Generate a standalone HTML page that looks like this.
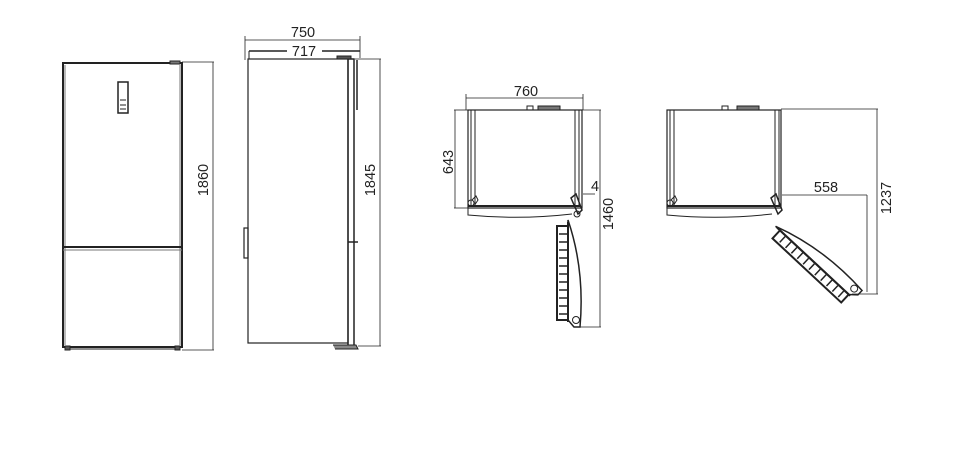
<!DOCTYPE html>
<html><head><style>
body{margin:0;background:#fff;width:961px;height:460px;overflow:hidden}
svg{display:block}
text{font-family:"Liberation Sans",sans-serif;font-size:14.5px;fill:#222}
</style></head><body>
<svg width="961" height="460" viewBox="0 0 961 460" xmlns="http://www.w3.org/2000/svg">
<g fill="none" stroke="#222" stroke-width="1">
<!-- Front view -->
<rect x="63" y="63" width="119" height="284" stroke-width="2"/>
<line x1="65" y1="65" x2="65" y2="345" stroke="#777"/>
<line x1="180" y1="65" x2="180" y2="345" stroke="#777"/>
<line x1="63" y1="247" x2="182" y2="247" stroke-width="2"/>
<line x1="63" y1="250" x2="182" y2="250" stroke="#777"/>
<rect x="118" y="82" width="10" height="31" stroke-width="1.5"/>
<line x1="120" y1="100" x2="126" y2="100"/><line x1="120" y1="105" x2="126" y2="105"/><line x1="120" y1="109" x2="126" y2="109"/>
<rect x="65" y="346" width="5" height="4" fill="#555"/><rect x="175" y="346" width="5" height="4" fill="#555"/>
<line x1="70" y1="349" x2="175" y2="349"/>
<rect x="170" y="61" width="10" height="3" fill="#777"/>
<line x1="182" y1="62" x2="214" y2="62" stroke-width="0.8"/>
<line x1="182" y1="350" x2="214" y2="350" stroke-width="0.8"/>
<line x1="213" y1="62" x2="213" y2="350" stroke-width="0.8"/>
<!-- Side view -->
<rect x="248" y="59" width="100" height="284" stroke-width="1.2"/>
<rect x="348" y="59" width="6" height="287" stroke-width="1.5"/>
<line x1="357" y1="60" x2="357" y2="110" stroke-width="1.5"/>
<line x1="348" y1="242" x2="358" y2="242" stroke-width="1.5"/>
<rect x="244" y="228" width="4" height="30" stroke-width="1.2"/>
<rect x="337" y="56" width="14" height="3" fill="#555"/>
<path d="M333 345 L356 345 L358 349 L335 349" fill="#888"/>
<line x1="245" y1="36" x2="245" y2="60" stroke-width="0.8"/>
<line x1="360" y1="36" x2="360" y2="58" stroke-width="0.8"/>
<line x1="245" y1="40" x2="360" y2="40" stroke-width="0.8"/>
<line x1="249" y1="51" x2="287" y2="51" stroke-width="1.5"/>
<line x1="322" y1="51" x2="360" y2="51" stroke-width="1.5"/>
<line x1="249" y1="51" x2="249" y2="59"/>
<line x1="355" y1="59" x2="381" y2="59" stroke-width="0.8"/>
<line x1="358" y1="346" x2="381" y2="346" stroke-width="0.8"/>
<line x1="380" y1="59" x2="380" y2="346" stroke-width="0.8"/>
<!-- Top view 1 -->
<rect x="468" y="110" width="114" height="98" stroke-width="1.2"/>
<rect x="471" y="110" width="4" height="96"/>
<rect x="575" y="110" width="4" height="96"/>
<line x1="468" y1="206" x2="580" y2="206" stroke-width="2"/>
<path d="M468 208 L468 215 Q520 220 572 214"/>
<circle cx="471" cy="203" r="3"/><path d="M472 200 L476 196 L478 200 L474 206"/>
<rect x="538" y="106" width="22" height="4" fill="#777"/><rect x="527" y="106" width="6" height="4"/>
<path d="M571 198 L576 194 L582 210 L578 214 Z" stroke-width="1.5"/>
<g>
<path d="M568 220 Q585 270 580 327 L574 327 L568 320 Z" stroke-width="1.5"/>
<rect x="557" y="226" width="11" height="94" stroke-width="2"/>
<path d="M559 234h8M559 242h8M559 250h8M559 258h8M559 266h8M559 274h8M559 282h8M559 290h8M559 298h8M559 306h8M559 314h8" stroke-width="1.5"/>
<line x1="568" y1="222" x2="568" y2="322" stroke-width="2"/>
<circle cx="577" cy="214" r="3"/><circle cx="576" cy="320" r="3.5"/>
</g>
<line x1="466" y1="94" x2="466" y2="110" stroke-width="0.8"/>
<line x1="583" y1="94" x2="583" y2="110" stroke-width="0.8"/>
<line x1="466" y1="98" x2="583" y2="98" stroke-width="0.8"/>
<line x1="454" y1="110" x2="468" y2="110" stroke-width="0.8"/>
<line x1="454" y1="208" x2="468" y2="208" stroke-width="0.8"/>
<line x1="455" y1="110" x2="455" y2="208" stroke-width="0.8"/>
<line x1="582" y1="110" x2="601" y2="110" stroke-width="0.8"/>
<line x1="580" y1="327" x2="601" y2="327" stroke-width="0.8"/>
<line x1="600" y1="110" x2="600" y2="327" stroke-width="0.8"/>
<line x1="583" y1="194" x2="595" y2="194" stroke-width="0.8"/>
<!-- Top view 2 -->
<rect x="667" y="110" width="114" height="98" stroke-width="1.2"/>
<rect x="670" y="110" width="4" height="96"/>
<rect x="775" y="110" width="4" height="96"/>
<line x1="667" y1="206" x2="780" y2="206" stroke-width="2"/>
<path d="M667 208 L667 215 Q720 220 772 214"/>
<circle cx="670" cy="203" r="3"/><path d="M671 200 L675 196 L677 200 L673 206"/>
<rect x="737" y="106" width="22" height="4" fill="#777"/><rect x="722" y="106" width="6" height="4"/>
<path d="M771 198 L776 194 L782 210 L778 214 Z" stroke-width="1.5"/>
<g transform="translate(781 219) rotate(-47) translate(-577 -219)">
<path d="M568 220 Q585 270 580 327 L574 327 L568 320 Z" stroke-width="1.5"/>
<rect x="557" y="226" width="11" height="94" stroke-width="2"/>
<path d="M559 234h8M559 242h8M559 250h8M559 258h8M559 266h8M559 274h8M559 282h8M559 290h8M559 298h8M559 306h8M559 314h8" stroke-width="1.5"/>
<line x1="568" y1="222" x2="568" y2="322" stroke-width="2"/>
<circle cx="576" cy="320" r="3.5"/>
</g>
<line x1="781" y1="109" x2="878" y2="109" stroke-width="0.8"/>
<line x1="852" y1="294" x2="878" y2="294" stroke-width="0.8"/>
<line x1="877" y1="109" x2="877" y2="294" stroke-width="0.8"/>
<line x1="782" y1="195" x2="867" y2="195" stroke-width="0.8"/>
<line x1="867" y1="195" x2="867" y2="292" stroke-width="0.8"/>
</g>
<text x="208" y="180" text-anchor="middle" transform="rotate(-90 208 180)">1860</text>
<text x="303" y="37" text-anchor="middle">750</text>
<text x="304" y="56" text-anchor="middle">717</text>
<text x="375" y="180" text-anchor="middle" transform="rotate(-90 375 180)">1845</text>
<text x="526" y="96" text-anchor="middle">760</text>
<text x="453" y="162" text-anchor="middle" transform="rotate(-90 453 162)">643</text>
<text x="595" y="191" text-anchor="middle">4</text>
<text x="613" y="214" text-anchor="middle" transform="rotate(-90 613 214)">1460</text>
<text x="826" y="192" text-anchor="middle">558</text>
<text x="891" y="198" text-anchor="middle" transform="rotate(-90 891 198)">1237</text>
</svg>
</body></html>
